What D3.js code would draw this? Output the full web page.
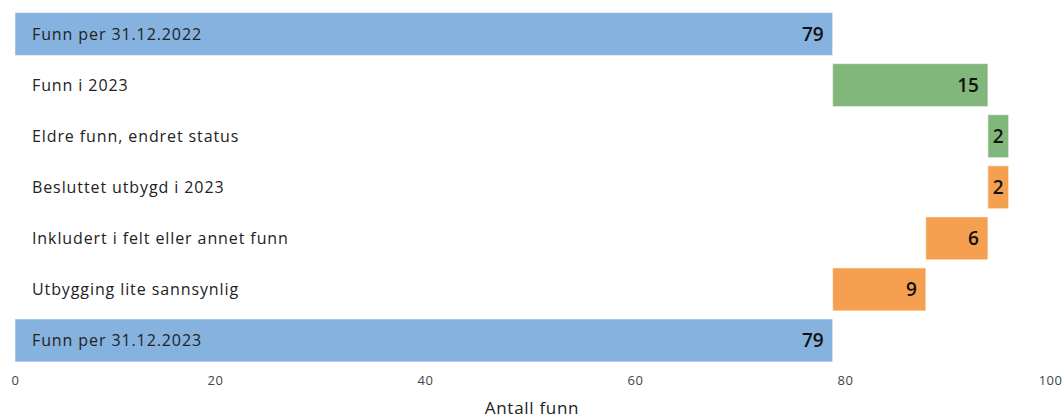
<!DOCTYPE html>
<html>
<head>
<meta charset="utf-8">
<script src="https://cdn.jsdelivr.net/npm/d3@7"></script>
<style>
  html, body { margin: 0; padding: 0; background: #fff; }
  svg { display: block; font-family: "Open Sans", "Noto Sans", sans-serif; }
</style>
</head>
<body>
<svg id="chart" width="1063" height="419"></svg>
<script>
// Waterfall of discoveries during 2023
const categories = [
  "Funn per 31.12.2022",
  "Funn i 2023",
  "Eldre funn, endret status",
  "Besluttet utbygd i 2023",
  "Inkludert i felt eller annet funn",
  "Utbygging lite sannsynlig",
  "Funn per 31.12.2023"
];
// Change for each step (totals are absolute)
const values = [79, 15, 2, -2, -6, -9, 79];
const kinds = ["total", "change", "change", "change", "change", "change", "total"];
const xTicks = [0, 20, 40, 60, 80, 100];
const xTitle = "Antall funn";

const colors = { total: "#85b2df", up: "#82b77b", down: "#f5a050" };

// Build waterfall segments
let running = 0;
const rows = categories.map((c, i) => {
  let x0, x1, kind;
  if (kinds[i] === "total") {
    x0 = 0; x1 = values[i]; running = values[i]; kind = "total";
  } else {
    const start = running;
    running += values[i];
    x0 = Math.min(start, running); x1 = Math.max(start, running);
    kind = values[i] >= 0 ? "up" : "down";
  }
  return { cat: c, x0, x1, kind, label: Math.abs(values[i]) };
});

const W = 1063;
const svg = d3.select("#chart");
const x = d3.scaleLinear().domain([0, 100]).range([15, 1050]);
// axis labels are spread over the full width, end labels kept inside the view
const xAxisScale = d3.scaleLinear().domain([0, 100]).range([5, 1055]);
const y = d3.scaleBand().domain(categories).range([8.5, 366]).paddingInner(0.16).paddingOuter(0.08);

const g = svg.append("g");

g.selectAll("rect.bar").data(rows).join("rect")
  .attr("class", "bar")
  .attr("x", d => x(d.x0))
  .attr("y", d => y(d.cat))
  .attr("width", d => x(d.x1) - x(d.x0))
  .attr("height", y.bandwidth())
  .attr("fill", d => colors[d.kind])
  .attr("stroke", "#ffffff")
  .attr("stroke-opacity", 0.5)
  .attr("stroke-width", 1);

// Category labels inside the plot on the left
g.selectAll("text.cat").data(rows).join("text")
  .attr("class", "cat")
  .attr("x", 32)
  .attr("y", d => y(d.cat) + y.bandwidth() / 2)
  .attr("dy", "0.35em")
  .attr("font-size", 16)
  .attr("letter-spacing", 0.9)
  .attr("fill", "#222")
  .text(d => d.cat);

// Value labels at bar end
g.selectAll("text.val").data(rows).join("text")
  .attr("class", "val")
  .attr("y", d => y(d.cat) + y.bandwidth() / 2)
  .attr("dy", "0.36em")
  .attr("font-size", 19)
  .attr("font-weight", 600)
  .attr("fill", "#111")
  .text(d => d.label)
  .each(function (d) {
    const w = this.getComputedTextLength();
    const bw = x(d.x1) - x(d.x0);
    const sel = d3.select(this);
    if (bw < w + 20) {
      sel.attr("text-anchor", "middle").attr("x", (x(d.x0) + x(d.x1)) / 2);
    } else {
      sel.attr("text-anchor", "end").attr("x", x(d.x1) - 9);
    }
  });

// X axis
const axis = d3.axisBottom(xAxisScale).tickValues(xTicks).tickSize(0).tickPadding(0);
const ax = svg.append("g").attr("transform", "translate(0,376)").call(axis);
ax.select(".domain").remove();
ax.selectAll("text")
  .attr("font-family", "\"Open Sans\", sans-serif")
  .attr("font-size", 13)
  .attr("letter-spacing", 0.5)
  .attr("fill", "#444")
  .each(function (d) {
    // keep the outermost labels inside the view
    const w = this.getComputedTextLength();
    const cx = xAxisScale(d);
    const shift = Math.max(11 - (cx - w / 2), 0) + Math.min(W - 1 - (cx + w / 2), 0);
    if (shift) d3.select(this).attr("x", shift);
  });

svg.append("text")
  .attr("x", 532)
  .attr("y", 414)
  .attr("text-anchor", "middle")
  .attr("font-size", 17)
  .attr("letter-spacing", 0.7)
  .attr("fill", "#222")
  .text(xTitle);
</script>
</body>
</html>
